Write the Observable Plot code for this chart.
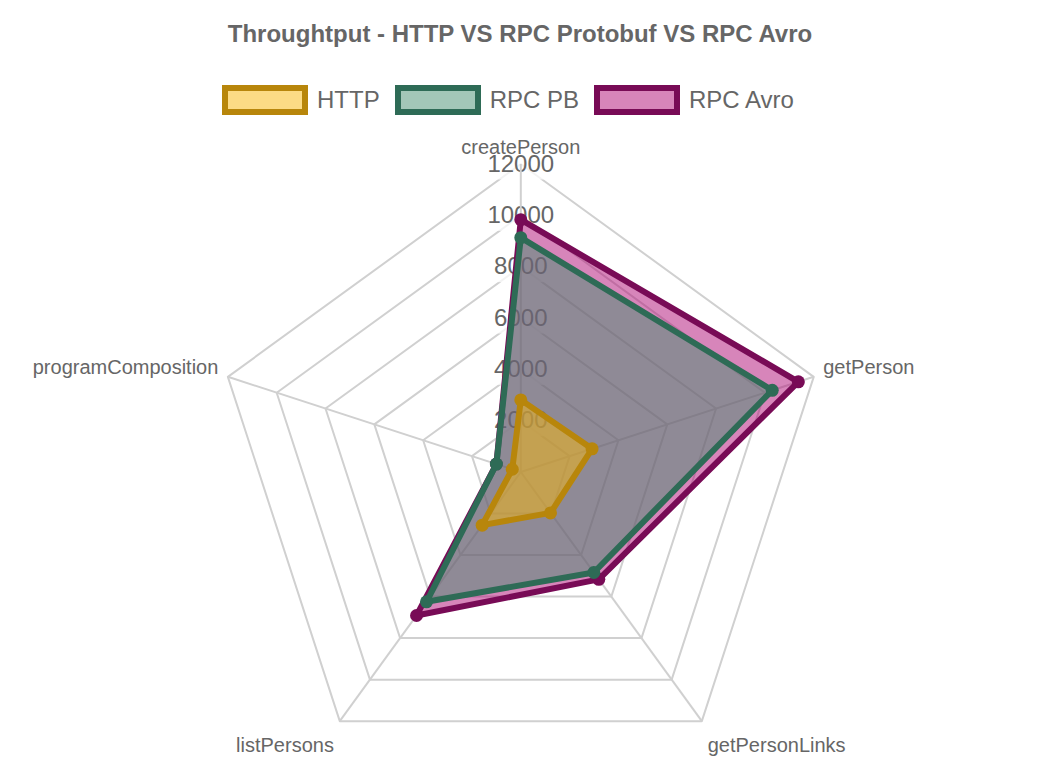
<!DOCTYPE html>
<html>
<head>
<meta charset="utf-8">
<script src="https://cdn.jsdelivr.net/npm/d3@7"></script>
<script src="https://cdn.jsdelivr.net/npm/@observablehq/plot@0.6"></script>
<style>
  body { margin: 0; background: #fff; font-family: "Liberation Sans", Arial, Helvetica, sans-serif; }
  #wrap { position: relative; width: 1040px; height: 780px; overflow: hidden; }
  #header { position: relative; height: 130px; }
  #title { position: absolute; left: 0; width: 1040px; top: 22px; text-align: center; font-weight: bold; font-size: 24px; line-height: 24px; color: #666; }
  #legend { position: absolute; left: 222px; top: 85px; display: flex; gap: 15px; align-items: center; }
  .item { display: flex; align-items: center; height: 30px; }
  .sw { width: 74px; height: 18px; border: 6px solid; }
  .lab { margin-left: 9px; font-size: 24px; line-height: 30px; color: #666; white-space: nowrap; }
  #chart svg { display: block; }
</style>
</head>
<body>
<div id="wrap">
  <div id="header">
    <div id="title"></div>
    <div id="legend"></div>
  </div>
  <div id="chart"></div>
</div>
<script>
// ---- data ----
const chartTitle = "Throughtput - HTTP VS RPC Protobuf VS RPC Avro";
const axes = ["createPerson", "getPerson", "getPersonLinks", "listPersons", "programComposition"];
const seriesNames = ["HTTP", "RPC PB", "RPC Avro"];
const httpValues = [2810, 2920, 1970, 2560, 350];
const rpcPbValues = [9130, 10300, 4840, 6250, 1000];
const rpcAvroValues = [9830, 11370, 5170, 6910, 1000];
const tickValues = [2000, 4000, 6000, 8000, 10000, 12000];

// ---- styles ----
const strokeColors = ["#B8860B", "#2E6B56", "#780B56"];
const fillColors = ["rgba(249,183,11,0.5)", "rgba(71,143,113,0.5)", "rgba(175,11,117,0.5)"];

// ---- header (title + legend) ----
document.getElementById("title").textContent = chartTitle;
const legend = document.getElementById("legend");
seriesNames.forEach((name, i) => {
  const item = document.createElement("div");
  item.className = "item";
  const sw = document.createElement("div");
  sw.className = "sw";
  sw.style.borderColor = strokeColors[i];
  sw.style.background = fillColors[i];
  const lab = document.createElement("span");
  lab.className = "lab";
  lab.textContent = name;
  item.appendChild(sw);
  item.appendChild(lab);
  legend.appendChild(item);
});

// ---- geometry ----
const W = 1040, H = 650;
const cxPx = 520.3, cyPx = 341.5, Rpx = 308;
const maxV = tickValues[tickValues.length - 1];
const u = maxV / Rpx; // value units per pixel
const n = axes.length;
const ang = i => i * 2 * Math.PI / n;
const px = (v, i) => v * Math.sin(ang(i));
const py = (v, i) => v * Math.cos(ang(i));

const ringData = tickValues.flatMap(t => axes.map((a, i) => ({t, x: px(t, i), y: py(t, i)})));
const spokeData = axes.map((a, i) => ({x2: px(maxV, i), y2: py(maxV, i)}));
const tickData = tickValues.map(t => {
  const hw = (String(t).length * 0.556 * 24) / 2 + 4;
  return {t, label: String(t), x1: -hw * u, x2: hw * u, y1: t - 16 * u, y2: t + 16 * u};
});
const labelR = maxV + 10 * u;
const labelData = axes.map((a, i) => ({name: a, i, x: px(labelR, i), y: py(labelR, i)}));

const seriesValues = [httpValues, rpcPbValues, rpcAvroValues];
const seriesPoints = seriesValues.map((vals, s) => vals.map((v, i) => ({series: seriesNames[s], x: px(v, i), y: py(v, i)})));

const labelFont = {fontSize: 20, fill: "#666"};
const labelMark = (idx, anchor, dy) =>
  Plot.text(labelData.filter(d => d.i === idx), {x: "x", y: "y", text: "name", ...labelFont, textAnchor: anchor, lineAnchor: "middle", dy});

const marks = [
  Plot.line(ringData, {x: "x", y: "y", z: "t", curve: "linear-closed", stroke: "#d0d0d0", strokeWidth: 2}),
  Plot.rect(tickData, {x1: "x1", x2: "x2", y1: "y1", y2: "y2", fill: "white", fillOpacity: 0.75}),
  Plot.text(tickData, {x: 0, y: "t", text: "label", fontSize: 24, fill: "#666", lineAnchor: "middle"}),
  Plot.link(spokeData, {x1: 0, y1: 0, x2: "x2", y2: "y2", stroke: "#d0d0d0", strokeWidth: 2}),
  labelMark(0, "middle", -6),
  labelMark(1, "start", -6),
  labelMark(2, "start", 16),
  labelMark(3, "end", 16),
  labelMark(4, "end", -6)
];

// datasets drawn last-to-first so HTTP ends on top
[2, 1, 0].forEach(s => {
  marks.push(Plot.line(seriesPoints[s], {x: "x", y: "y", curve: "linear-closed", fill: fillColors[s], stroke: strokeColors[s], strokeWidth: 6, strokeLinejoin: "miter"}));
  marks.push(Plot.dot(seriesPoints[s], {x: "x", y: "y", r: 6.5, fill: strokeColors[s], stroke: "none"}));
});

const chart = Plot.plot({
  width: W,
  height: H,
  margin: 0,
  x: {type: "linear", domain: [-cxPx * u, (W - cxPx) * u], range: [0, W], axis: null},
  y: {type: "linear", domain: [-(H - cyPx) * u, cyPx * u], range: [H, 0], axis: null},
  style: {background: "transparent", fontFamily: "'Liberation Sans', Arial, Helvetica, sans-serif", overflow: "visible"},
  marks
});
document.getElementById("chart").appendChild(chart);
</script>
</body>
</html>
